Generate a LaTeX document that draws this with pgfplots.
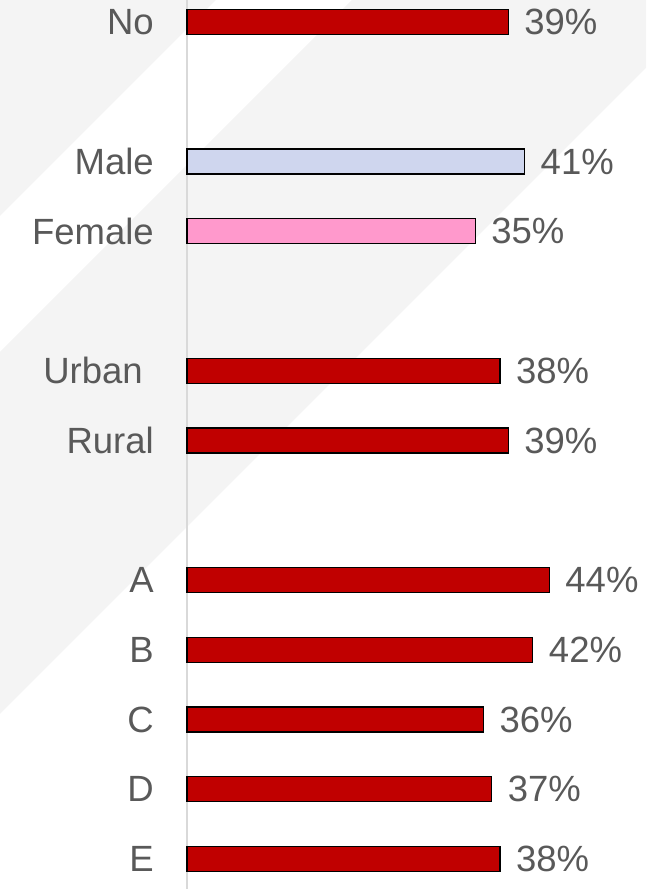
\documentclass[border=0pt]{standalone}
\usepackage{pgfplots}
\pgfplotsset{compat=1.18}
\usepackage{fontspec}
\setmainfont{Liberation Sans}
\definecolor{barred}{HTML}{C00000}
\definecolor{male}{HTML}{CFD6EE}
\definecolor{female}{HTML}{FF99CC}
\definecolor{txt}{HTML}{595959}
\definecolor{stripe}{HTML}{F4F4F4}
\definecolor{axisgray}{HTML}{D9D9D9}
\newcommand{\bigfont}{\fontsize{36.5}{44}\selectfont}
\begin{document}
\begin{tikzpicture}[x=1pt,y=1pt]
\useasboundingbox (0,0) rectangle (646,889);
\fill[stripe] (0,889) -- (216,889) -- (0,673) -- cycle;
\fill[stripe] (352,889) -- (646,889) -- (646,821) -- (0,175) -- (0,537) -- cycle;
\begin{axis}[
  at={(187pt,0pt)}, anchor=south west,
  scale only axis, width=459pt, height=889pt,
  xmin=0, xmax=55.74, ymin=-0.315, ymax=12.43, y dir=reverse,
  axis x line=none, axis y line*=left,
  y axis line style={draw=axisgray, line width=1.5pt, -},
  ytick={0,2,3,5,6,8,9,10,11,12},
  yticklabels={No,Male,Female,{Urban\kern11pt},Rural,A,B,C,D,E},
  major tick length=0pt,
  yticklabel style={anchor=east, inner sep=0pt, xshift=-33pt, text=txt, font=\bigfont},
  xbar, bar width=25pt, bar shift=0pt,
  clip=false,
  nodes near coords={\pgfmathprintnumber{\pgfplotspointmeta}\%},
  point meta=x,
  every node near coord/.append style={anchor=west, inner sep=0pt, xshift=15.5pt, text=txt, font=\bigfont},
  /pgf/number format/assume math mode=true,
]
\addplot[draw=black, line width=1.2pt, fill=barred] coordinates {
  (39,0) (38,5) (39,6) (44,8) (42,9) (36,10) (37,11) (38,12)
};
\addplot[draw=black, line width=1.2pt, fill=male] coordinates {(41,2)};
\addplot[draw=black, line width=1.2pt, fill=female] coordinates {(35,3)};
\end{axis}
\end{tikzpicture}
\end{document}
